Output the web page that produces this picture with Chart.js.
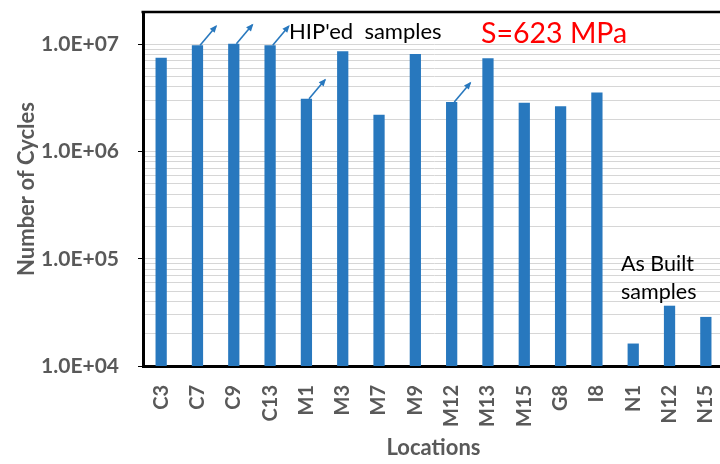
<!DOCTYPE html>
<html>
<head>
<meta charset="utf-8">
<script src="https://cdn.jsdelivr.net/npm/chart.js@4/dist/chart.umd.min.js"></script>
<style>
html,body{margin:0;padding:0;background:#fff;overflow:hidden;width:720px;height:464px;}
#wrap{width:725px;height:464px;}
</style>
</head>
<body>
<div id="wrap"><canvas id="c" width="725" height="464"></canvas></div>
<script>
const locations = ["C3","C7","C9","C13","M1","M3","M7","M9","M12","M13","M15","G8","I8","N1","N12","N15"];
const cycles = [7.5e6, 9.8e6, 1.01e7, 9.8e6, 3.1e6, 8.6e6, 2.2e6, 8.1e6, 2.9e6, 7.4e6, 2.85e6, 2.65e6, 3.55e6, 1.62e4, 3.65e4, 2.87e4];
const runouts = [false, true, true, true, true, false, false, false, true, false, false, false, false, false, false, false];
const yTickValues = [1e4,2e4,3e4,4e4,5e4,6e4,7e4,8e4,9e4,1e5,2e5,3e5,4e5,5e5,6e5,7e5,8e5,9e5,1e6,2e6,3e6,4e6,5e6,6e6,7e6,8e6,9e6,1e7,2e7];
const yLabelValues = [1e4,1e5,1e6,1e7];

const BLUE = '#2878BE';
const GRAY = '#595959';

const overlay = {
  id: 'overlay',
  afterDraw(chart) {
    const ctx = chart.ctx;
    const area = chart.chartArea;
    const meta = chart.getDatasetMeta(0);
    ctx.save();
    // run-out arrows
    ctx.strokeStyle = BLUE;
    ctx.fillStyle = BLUE;
    ctx.lineWidth = 1.6;
    meta.data.forEach((bar, i) => {
      if (!runouts[i]) return;
      const x0 = bar.x + bar.width / 2 - 3;
      const y0 = bar.y;
      const x1 = x0 + 16;
      const y1 = y0 - 19;
      ctx.beginPath();
      ctx.moveTo(x0, y0);
      ctx.lineTo(x1, y1);
      ctx.stroke();
      const ang = Math.atan2(y1 - y0, x1 - x0);
      const L = 6, W = 3.2;
      ctx.beginPath();
      ctx.moveTo(x1 + Math.cos(ang) * 1.5, y1 + Math.sin(ang) * 1.5);
      ctx.lineTo(x1 - L * Math.cos(ang) + W * Math.sin(ang), y1 - L * Math.sin(ang) - W * Math.cos(ang));
      ctx.lineTo(x1 - L * Math.cos(ang) - W * Math.sin(ang), y1 - L * Math.sin(ang) + W * Math.cos(ang));
      ctx.closePath();
      ctx.fill();
    });
    // top frame line
    ctx.strokeStyle = '#000';
    ctx.lineWidth = 2.5;
    ctx.beginPath();
    ctx.moveTo(area.left - 1.5, area.top);
    ctx.lineTo(area.right + 2, area.top);
    ctx.stroke();
    // annotations
    ctx.textBaseline = 'alphabetic';
    ctx.textAlign = 'left';
    ctx.fillStyle = '#000';
    ctx.font = '22px Lato';
    ctx.fillText("HIP'ed  samples", 289, 39);
    ctx.font = '21.5px Lato';
    ctx.fillText('As Built', 621, 271);
    ctx.fillText('samples', 621, 299);
    ctx.fillStyle = '#FF0000';
    ctx.font = '28.5px Lato';
    ctx.fillText('S=623 MPa', 481, 43);
    ctx.restore();
  }
};

new Chart(document.getElementById('c'), {
  type: 'bar',
  data: {
    labels: locations,
    datasets: [{
      data: cycles,
      backgroundColor: BLUE,
      borderWidth: 0,
      barPercentage: 0.31,
      categoryPercentage: 1.0
    }]
  },
  options: {
    responsive: false,
    animation: false,
    devicePixelRatio: 1,
    layout: { padding: { top: 12, right: 1, left: 0, bottom: 0 } },
    plugins: { legend: { display: false }, tooltip: { enabled: false } },
    scales: {
      x: {
        grid: { display: false, drawTicks: false },
        border: { display: true, color: '#000', width: 3 },
        ticks: {
          color: GRAY,
          font: { family: 'Lato', size: 20, weight: 'bold' },
          minRotation: 90, maxRotation: 90,
          padding: 19,
          autoSkip: false
        },
        title: {
          display: true,
          text: 'Locations',
          color: GRAY,
          font: { family: 'Lato', size: 22, weight: 'bold' },
          padding: { top: 0, bottom: 3 }
        },
        afterFit(scale) {
          scale.height = 98;
          scale.paddingLeft = 0;
          scale.paddingRight = 0;
        }
      },
      y: {
        type: 'logarithmic',
        min: 1e4,
        max: 2e7,
        afterBuildTicks(scale) {
          scale.ticks = yTickValues.map(v => ({ value: v }));
        },
        grid: {
          color: '#D6D6D6',
          lineWidth: 1,
          drawTicks: true,
          tickLength: 5,
          tickColor: (c) => yLabelValues.includes(c.tick && c.tick.value) ? '#000' : 'rgba(0,0,0,0)'
        },
        border: { display: true, color: '#000', width: 3 },
        ticks: {
          color: GRAY,
          font: { family: 'Lato', size: 21, weight: 'bold' },
          padding: 19,
          autoSkip: false,
          callback: (v) => yLabelValues.includes(v) ? Number(v).toExponential(1).toUpperCase().replace('E+', 'E+0') : ''
        },
        title: {
          display: true,
          text: 'Number of Cycles',
          color: GRAY,
          font: { family: 'Lato', size: 22, weight: 'bold' },
          padding: { top: 14, bottom: 0 }
        },
        afterFit(scale) {
          scale.width = 143;
          scale.paddingTop = 0;
          scale.paddingBottom = 0;
        }
      }
    }
  },
  plugins: [overlay]
});
</script>
</body>
</html>
